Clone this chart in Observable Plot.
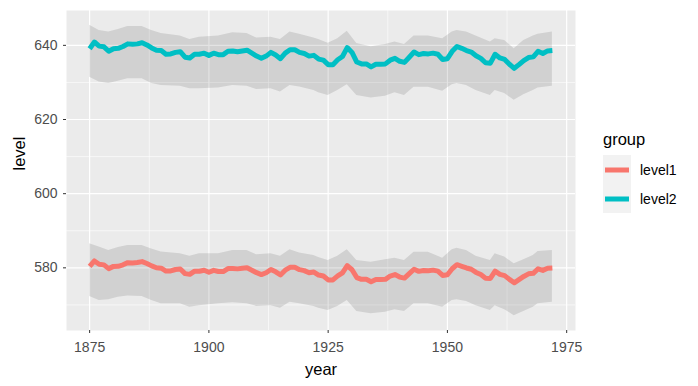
<!DOCTYPE html>
<html><head><meta charset="utf-8">
<script src="https://cdn.jsdelivr.net/npm/d3@7"></script>
<script src="https://cdn.jsdelivr.net/npm/@observablehq/plot@0.6"></script>
<style>body{margin:0;background:#fff;}</style>
</head><body><div id="chart"></div>
<script>
const years = d3.range(1875, 1973);
const level1 = [580.38,581.86,580.97,580.8,579.79,580.39,580.42,580.82,581.4,581.32,581.44,581.68,581.17,580.53,580.01,579.91,579.14,579.16,579.55,579.67,578.44,578.24,579.1,579.09,579.35,578.82,579.32,579.01,579,579.8,579.83,579.72,579.89,580.01,579.37,578.69,578.19,578.67,579.55,578.92,578.09,579.37,580.13,580.14,579.51,579.24,578.66,578.86,578.05,577.79,576.75,576.75,577.82,578.64,580.58,579.48,577.38,576.9,576.94,576.24,576.84,576.85,576.9,577.79,578.18,577.51,577.23,578.42,579.61,579.05,579.26,579.22,579.38,579.1,577.95,578.12,579.75,580.85,580.41,579.96,579.61,578.76,578.18,577.21,577.13,579.1,578.25,577.91,576.89,575.96,576.8,577.68,578.38,578.52,579.74,579.31,579.89,579.96];
const level2 = [639.1,640.9,639.8,639.6,638.4,639.1,639.2,639.7,640.4,640.3,640.4,640.7,640.1,639.3,638.7,638.6,637.6,637.7,638.1,638.3,636.8,636.6,637.6,637.6,637.9,637.3,637.9,637.5,637.5,638.4,638.5,638.3,638.5,638.7,637.9,637.1,636.5,637.1,638.1,637.4,636.4,637.9,638.8,638.8,638.1,637.8,637.1,637.3,636.3,636.0,634.8,634.8,636.1,637.0,639.4,638.1,635.5,635.0,635.0,634.2,634.9,634.9,635.0,636.0,636.5,635.7,635.4,636.8,638.2,637.5,637.8,637.7,637.9,637.6,636.2,636.4,638.4,639.7,639.2,638.6,638.2,637.2,636.5,635.3,635.2,637.6,636.6,636.2,634.9,633.8,634.8,635.9,636.7,636.9,638.4,637.8,638.5,638.6];

const bandYears = [1875,1877,1879,1881,1883,1886,1888,1890,1894,1896,1898,1902,1905,1908,1910,1913,1915,1917,1919,1922,1923,1925,1927,1929,1931,1934,1937,1939,1941,1943,1946,1949,1951,1952,1954,1956,1959,1960,1962,1964,1966,1968,1969,1972];
const upper1 = [586.5,585.6,584.7,585.5,586.0,586.0,585.1,584.3,583.8,583.1,583.8,583.8,584.7,584.7,583.5,583.8,583.1,584.9,584.0,583.3,582.8,582.0,583.1,584.9,582.0,581.5,582.2,582.6,582.0,584.2,584.2,582.6,584.9,585.3,584.7,583.1,582.0,583.8,582.9,581.1,582.2,583.3,584.4,584.7];
const lower1 = [572.3,571.2,571.4,572.1,572.4,572.3,571.2,570.3,570.3,569.4,569.8,570.3,570.6,570.3,569.6,569.8,569.1,570.7,570.3,569.6,569.1,568.5,569.6,571.2,568.2,567.6,568.0,568.7,568.2,570.3,570.3,569.4,571.2,571.4,570.9,569.8,568.5,569.8,568.7,567.1,568.2,569.4,570.3,570.7];
const upper2 = [645.4,644.0,643.6,644.3,645.1,645.1,644.0,643.2,642.5,641.6,642.2,642.5,643.4,643.2,642.0,642.2,641.6,643.6,643.0,642.0,641.6,640.6,641.8,643.8,640.5,639.6,640.2,640.9,640.2,642.5,642.5,641.8,643.6,644.0,643.6,642.5,640.9,641.8,641.3,639.1,641.3,642.5,643.0,643.6];
const lower2 = [631.4,630.1,629.7,630.3,631.0,631.0,629.7,629.2,629.0,628.3,628.3,628.5,629.2,629.0,628.1,628.3,627.4,629.2,628.8,627.8,627.2,626.5,627.8,629.4,626.5,625.8,626.3,627.2,626.5,628.7,628.7,627.6,629.4,629.7,629.2,627.8,626.5,627.8,627.0,625.2,626.7,627.8,628.5,629.0];

const groups = ["level1", "level2"];
const colors = ["#F8766D", "#00BFC4"];
const xTicks = [1875, 1900, 1925, 1950, 1975];
const yTicks = [580, 600, 620, 640];
const xMinor = [1887.5, 1912.5, 1937.5, 1962.5];
const yMinor = [570, 590, 610, 630];

const lineData = [
  ...years.map((yr, i) => ({year: yr, level: level1[i], group: groups[0]})),
  ...years.map((yr, i) => ({year: yr, level: level2[i], group: groups[1]}))
];
const bandData = [
  ...bandYears.map((yr, i) => ({year: yr, lo: lower1[i], hi: upper1[i], group: groups[0]})),
  ...bandYears.map((yr, i) => ({year: yr, lo: lower2[i], hi: upper2[i], group: groups[1]}))
];

const FONT = "'Liberation Sans', Arial, sans-serif";
const TICK = 14, TITLE = 16.5;
const chart = Plot.plot({
  width: 698, height: 386,
  marginLeft: 66, marginRight: 123, marginTop: 10, marginBottom: 56,
  style: {fontFamily: FONT, fontSize: TICK + "px", background: "#fff", overflow: "visible"},
  x: {domain: [1870.15, 1976.85]},
  y: {domain: [563.1, 649.4]},
  color: {domain: groups, range: colors},
  marks: [
    Plot.frame({fill: "#EBEBEB", stroke: "none"}),
    Plot.gridX(xMinor, {stroke: "#fff", strokeOpacity: 1, strokeWidth: 0.6}),
    Plot.gridY(yMinor, {stroke: "#fff", strokeOpacity: 1, strokeWidth: 0.6}),
    Plot.gridX(xTicks, {stroke: "#fff", strokeOpacity: 1, strokeWidth: 1.2}),
    Plot.gridY(yTicks, {stroke: "#fff", strokeOpacity: 1, strokeWidth: 1.2}),
    Plot.areaY(bandData, {x: "year", y1: "lo", y2: "hi", z: "group", fill: "#000", fillOpacity: 0.11}),
    Plot.lineY(lineData, {x: "year", y: "level", z: "group", stroke: "group", strokeWidth: 5, strokeLinejoin: "round", strokeLinecap: "butt"}),
    Plot.axisX(xTicks, {anchor: "bottom", tickSize: 3, tickPadding: 9, stroke: "#333", fill: "#4D4D4D", fontSize: TICK, label: null, tickFormat: d => String(d)}),
    Plot.axisY(yTicks, {anchor: "left", tickSize: 3, tickPadding: 6, stroke: "#333", fill: "#4D4D4D", fontSize: TICK, label: null}),
    Plot.text(["year"], {frameAnchor: "bottom", dy: 39, fontSize: TITLE, fill: "#000", lineAnchor: "middle"}),
    Plot.text(["level"], {frameAnchor: "left", dx: -47, rotate: -90, fontSize: TITLE, fill: "#000", lineAnchor: "middle"})
  ]
});
document.getElementById("chart").appendChild(chart);

// legend
const svg = d3.select(chart);
const lg = svg.append("g").attr("font-family", FONT).attr("text-anchor", "start");
lg.append("text").attr("x", 603).attr("y", 145).attr("font-size", TITLE + "px").attr("fill", "#000").text("group");
lg.append("rect").attr("x", 603).attr("y", 155).attr("width", 28).attr("height", 58).attr("fill", "#F2F2F2");
groups.forEach((g, i) => {
  const cy = 170 + i * 29;
  lg.append("line").attr("x1", 605).attr("x2", 629).attr("y1", cy).attr("y2", cy)
    .attr("stroke", colors[i]).attr("stroke-width", 5);
  lg.append("text").attr("x", 640).attr("y", cy).attr("dy", "0.35em").attr("font-size", TICK + "px").attr("fill", "#000").text(g);
});
</script>
</body></html>
